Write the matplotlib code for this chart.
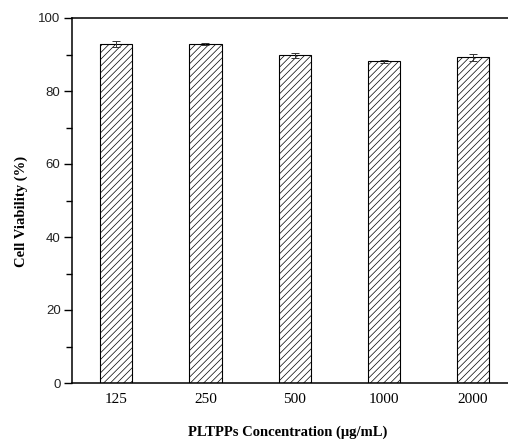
import numpy as np
import matplotlib.pyplot as plt
from matplotlib.ticker import MultipleLocator

conc = ['125', '250', '500', '1000', '2000']
viability = [92.9, 92.8, 89.8, 88.1, 89.2]
err = [0.9, 0.3, 0.7, 0.3, 0.9]

plt.rcParams['hatch.linewidth'] = 0.5
plt.rcParams['hatch.color'] = '#444444'

fig = plt.figure(figsize=(5.08, 4.43), dpi=100)
# right edge of the axes sits just past the figure edge, as in the cropped original
ax = fig.add_axes([71.7/508, 60/443, (517.6-71.7)/508, 365/443])

xpos = np.arange(len(conc))
ax.bar(xpos, viability, width=0.36, color='white', edgecolor='black',
       linewidth=0.8, hatch='/////', zorder=2)
ax.errorbar(xpos, viability, yerr=err, fmt='none', ecolor='#333333',
            elinewidth=0.7, capsize=3, capthick=0.7, zorder=3)

ax.set_xlim(-0.5, 4.5)
ax.set_ylim(0, 100)
ax.set_xticks(xpos)
ax.set_xticklabels(conc, family='Liberation Serif', fontsize=11)
ax.tick_params(axis='x', length=0, pad=7)
ax.yaxis.set_major_locator(MultipleLocator(20))
ax.yaxis.set_minor_locator(MultipleLocator(10))
ax.tick_params(axis='y', which='major', length=6, width=1, pad=2,
               labelsize=9.5, labelcolor='#222222', direction='out')
ax.tick_params(axis='y', which='minor', length=4, width=1, direction='out')
for lab in ax.get_yticklabels():
    lab.set_family('Liberation Sans')

for s in ['left', 'bottom', 'top']:
    ax.spines[s].set_linewidth(1.1)
ax.spines['right'].set_visible(False)

fig.text(21/508, 1 - 211/443, 'Cell Viability (%)', rotation=90,
         ha='center', va='center', family='Liberation Serif',
         fontweight='bold', fontsize=10.5)
fig.text(288/508, 1 - 432/443, 'PLTPPs Concentration (\u03bcg/mL)',
         ha='center', va='center', family='Liberation Serif',
         fontweight='bold', fontsize=10.5)

fig.savefig('out.png', dpi=100)
